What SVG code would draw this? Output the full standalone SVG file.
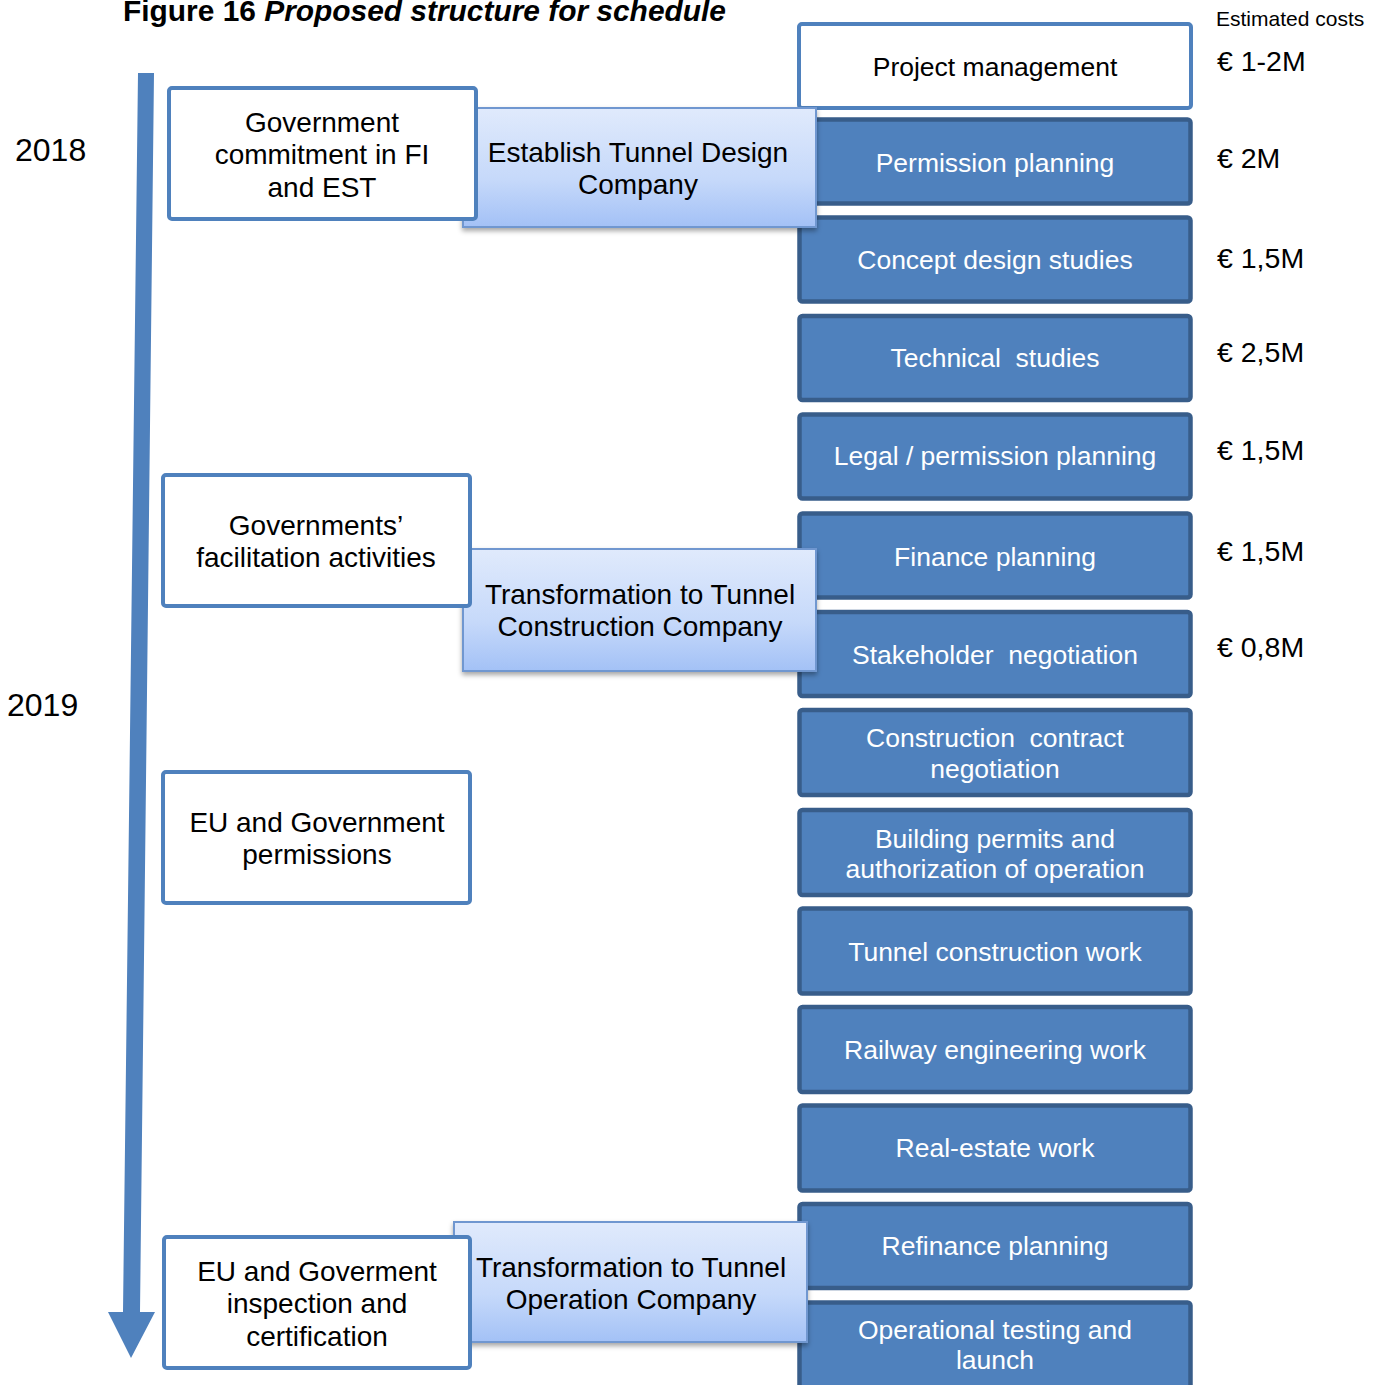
<svg xmlns="http://www.w3.org/2000/svg" width="1383" height="1385" viewBox="0 0 1383 1385">
  <style>
    text { font-family: "Liberation Sans", Arial, sans-serif; }
    .title { font-size: 29.9px; font-weight: bold; fill: #000; }
    .year { font-size: 32px; fill: #000; }
    .cost { font-size: 28.5px; fill: #000; }
    .costhead { font-size: 21px; fill: #000; }
    .lbl { font-size: 28px; fill: #000; text-anchor: middle; }
    .lblr { font-size: 26.5px; fill: #000; text-anchor: middle; }
    .lblw { font-size: 26.5px; fill: #fff; text-anchor: middle; }
    .plain { fill: #fff; stroke: #4F81BD; stroke-width: 4; }
    .task { fill: #4F81BD; stroke: #385D8A; stroke-width: 4.5; }
    .phase { fill: url(#phaseFill); stroke: #6F97D0; stroke-width: 2; filter: url(#shadow); }
  </style>
  <defs>
    <linearGradient id="phaseFill" x1="0" y1="0" x2="0" y2="1">
      <stop offset="0" stop-color="#E0EAFC"/>
      <stop offset="0.6" stop-color="#C6D9FA"/>
      <stop offset="1" stop-color="#A3C1F6"/>
    </linearGradient>
    <filter id="shadow" x="-5%" y="-10%" width="110%" height="125%">
      <feDropShadow dx="0" dy="3" stdDeviation="2.5" flood-color="#000" flood-opacity="0.35"/>
    </filter>
  </defs>

  <rect width="1383" height="1385" fill="#fff"/>

  <!-- heading -->
  <text class="title" x="123" y="21">Figure 16 <tspan font-style="italic">Proposed structure for schedule</tspan></text>
  <text class="costhead" x="1216" y="26">Estimated costs</text>

  <!-- years -->
  <text class="year" x="15" y="161">2018</text>
  <text class="year" x="7" y="716">2019</text>

  <!-- time axis -->
  <g id="connectors">
    <polygon id="timeline-arrow" points="138,73 154,73 140,1312 155,1312 131,1358 108,1312 123,1312" fill="#4F81BD"/>
  </g>

  <!-- task column -->
  <g id="project-management">
    <rect class="plain" x="799" y="24" width="392" height="84" rx="3"/>
    <text class="lblr" x="995" y="76">Project management</text>
  </g>
  <g id="permission-planning">
    <rect class="task" x="799.5" y="119.5" width="391" height="84" rx="3"/>
    <text class="lblw" x="995" y="172">Permission planning</text>
  </g>
  <g id="concept-design">
    <rect class="task" x="799.5" y="217.5" width="391" height="84" rx="3"/>
    <text class="lblw" x="995" y="269">Concept design studies</text>
  </g>
  <g id="technical-studies">
    <rect class="task" x="799.5" y="316" width="391" height="84" rx="3"/>
    <text class="lblw" x="995" y="367" xml:space="preserve">Technical  studies</text>
  </g>
  <g id="legal-permission">
    <rect class="task" x="799.5" y="414.5" width="391" height="84" rx="3"/>
    <text class="lblw" x="995" y="465">Legal / permission planning</text>
  </g>
  <g id="finance-planning">
    <rect class="task" x="799.5" y="513.5" width="391" height="84" rx="3"/>
    <text class="lblw" x="995" y="566">Finance planning</text>
  </g>
  <g id="stakeholder-negotiation">
    <rect class="task" x="799.5" y="612" width="391" height="84" rx="3"/>
    <text class="lblw" x="995" y="664" xml:space="preserve">Stakeholder  negotiation</text>
  </g>
  <g id="construction-contract">
    <rect class="task" x="799.5" y="710" width="391" height="85" rx="3"/>
    <text class="lblw" x="995" y="747" xml:space="preserve">Construction  contract</text>
    <text class="lblw" x="995" y="778">negotiation</text>
  </g>
  <g id="building-permits">
    <rect class="task" x="799.5" y="810" width="391" height="85" rx="3"/>
    <text class="lblw" x="995" y="848">Building permits and</text>
    <text class="lblw" x="995" y="878">authorization of operation</text>
  </g>
  <g id="tunnel-construction">
    <rect class="task" x="799.5" y="908.5" width="391" height="85" rx="3"/>
    <text class="lblw" x="995" y="961">Tunnel construction work</text>
  </g>
  <g id="railway-engineering">
    <rect class="task" x="799.5" y="1007" width="391" height="85" rx="3"/>
    <text class="lblw" x="995" y="1059">Railway engineering work</text>
  </g>
  <g id="real-estate">
    <rect class="task" x="799.5" y="1105.5" width="391" height="85" rx="3"/>
    <text class="lblw" x="995" y="1157">Real-estate work</text>
  </g>
  <g id="refinance-planning">
    <rect class="task" x="799.5" y="1204" width="391" height="84" rx="3"/>
    <text class="lblw" x="995" y="1255">Refinance planning</text>
  </g>
  <g id="operational-testing">
    <rect class="task" x="799.5" y="1302.5" width="391" height="90" rx="3"/>
    <text class="lblw" x="995" y="1339">Operational testing and</text>
    <text class="lblw" x="995" y="1369">launch</text>
  </g>

  <!-- company phases -->
  <g id="tunnel-design-company">
    <rect class="phase" x="463" y="108" width="353" height="119"/>
    <text class="lbl" x="638" y="162">Establish Tunnel Design</text>
    <text class="lbl" x="638" y="194">Company</text>
  </g>
  <g id="tunnel-construction-company">
    <rect class="phase" x="463" y="549" width="353" height="122"/>
    <text class="lbl" x="640" y="604">Transformation to Tunnel</text>
    <text class="lbl" x="640" y="636">Construction Company</text>
  </g>
  <g id="tunnel-operation-company">
    <rect class="phase" x="454" y="1222" width="353" height="120"/>
    <text class="lbl" x="631" y="1277">Transformation to Tunnel</text>
    <text class="lbl" x="631" y="1309">Operation Company</text>
  </g>

  <!-- government actions -->
  <g id="government-commitment">
    <rect class="plain" x="169" y="88" width="307" height="131" rx="3"/>
    <text class="lbl" x="322" y="132">Government</text>
    <text class="lbl" x="322" y="164">commitment in FI</text>
    <text class="lbl" x="322" y="197">and EST</text>
  </g>
  <g id="facilitation-activities">
    <rect class="plain" x="163" y="475" width="307" height="131" rx="3"/>
    <text class="lbl" x="316" y="535">Governments’</text>
    <text class="lbl" x="316" y="567">facilitation activities</text>
  </g>
  <g id="eu-government-permissions">
    <rect class="plain" x="163" y="772" width="307" height="131" rx="3"/>
    <text class="lbl" x="317" y="832">EU and Government</text>
    <text class="lbl" x="317" y="864">permissions</text>
  </g>
  <g id="inspection-certification">
    <rect class="plain" x="164" y="1237" width="306" height="131" rx="3"/>
    <text class="lbl" x="317" y="1281">EU and Goverment</text>
    <text class="lbl" x="317" y="1313">inspection and</text>
    <text class="lbl" x="317" y="1346">certification</text>
  </g>

  <!-- estimated costs -->
  <g id="costs">
    <text class="cost" x="1217" y="71">€ 1-2M</text>
    <text class="cost" x="1217" y="168">€ 2M</text>
    <text class="cost" x="1217" y="268">€ 1,5M</text>
    <text class="cost" x="1217" y="362">€ 2,5M</text>
    <text class="cost" x="1217" y="460">€ 1,5M</text>
    <text class="cost" x="1217" y="561">€ 1,5M</text>
    <text class="cost" x="1217" y="657">€ 0,8M</text>
  </g>
</svg>
